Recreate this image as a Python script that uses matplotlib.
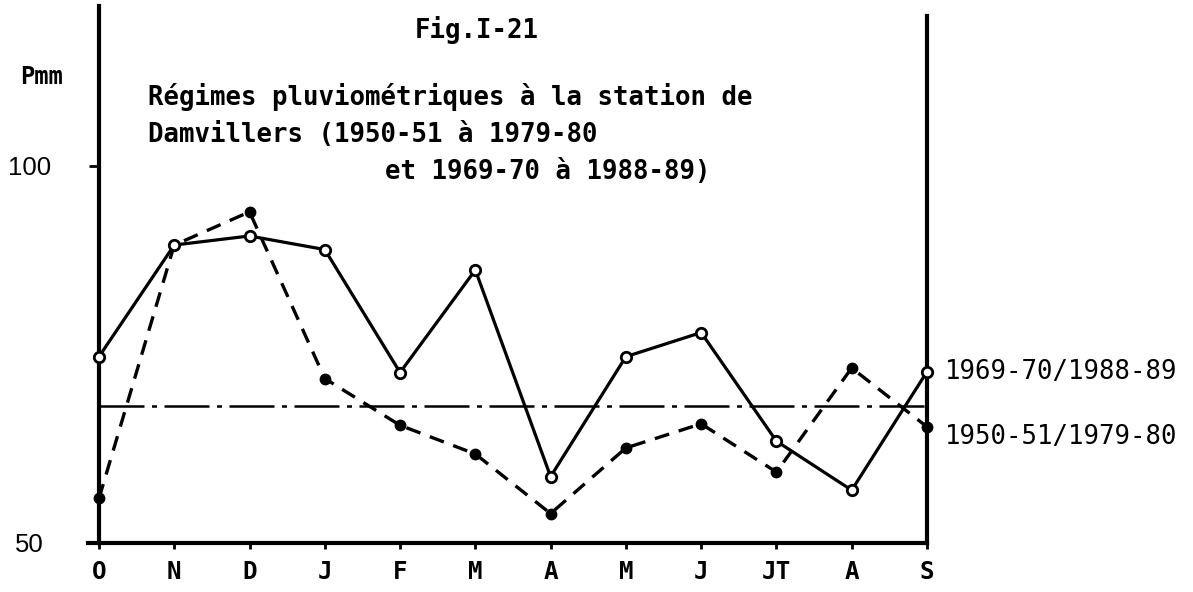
import matplotlib
matplotlib.use("Agg")
import matplotlib.pyplot as plt

# Pluviometrie mensuelle, Damvillers (mm)
mois = ["O", "N", "D", "J", "F", "M", "A", "M", "J", "JT", "A", "S"]
p_1969_89 = [74.7, 89.5, 90.7, 88.9, 72.6, 86.2, 58.8, 74.7, 77.9, 63.5, 57.0, 72.7]
p_1950_80 = [55.9, 89.5, 93.9, 71.8, 65.6, 61.8, 53.9, 62.6, 65.8, 59.4, 73.2, 65.4]
moyenne = 68.2

MONO = "DejaVu Sans Mono"

fig = plt.figure(figsize=(11.93, 5.92), dpi=100)
ax = fig.add_axes([0.0735, 0.0828, 0.7035, 0.9072])
x = list(range(len(mois)))

ax.plot(x, p_1950_80, color="black", lw=2.4, ls=(0, (4.5, 3)), marker="o",
        ms=7.5, mfc="black", mec="black", zorder=3, clip_on=False)
ax.plot(x, p_1969_89, color="black", lw=2.3, marker="o", ms=7.5, mfc="white",
        mec="black", mew=2, zorder=4, clip_on=False)
ax.plot([0, 11], [moyenne, moyenne], color="black", lw=1.8,
        ls=(0, (18, 3, 2, 3)), zorder=2)

ax.set_xlim(-0.15, 11)
ax.set_ylim(50, 121.2)
ax.spines["left"].set_position(("data", 0))
ax.spines["left"].set_linewidth(3)
ax.spines["bottom"].set_linewidth(3)
ax.spines["top"].set_visible(False)
ax.spines["right"].set_visible(False)
ax.axvline(11, ymin=0, ymax=(119.8 - 50) / 71.2, color="black", lw=3, clip_on=False)

ax.set_xticks(x)
ax.set_xticklabels(mois, fontfamily=MONO, fontweight="bold", fontsize=17.5)
ax.tick_params(axis="x", length=4, width=2, pad=8)
ax.set_yticks([50, 100])
ax.set_yticklabels(["50", "100"], fontfamily="Liberation Sans", fontsize=18.5)
ax.tick_params(axis="y", length=7, width=2, pad=43)
for lab in ax.get_yticklabels():
    lab.set_horizontalalignment("center")

ax.text(11.24, 72.7, "1969-70/1988-89", fontfamily=MONO, fontsize=18.5,
        va="center", ha="left", clip_on=False)
ax.text(11.24, 64.0, "1950-51/1979-80", fontfamily=MONO, fontsize=18.5,
        va="center", ha="left", clip_on=False)

fig.text(0.348, 0.949, "Fig.I-21", fontfamily=MONO, fontweight="bold",
         fontsize=18.5, va="center", ha="left")
fig.text(0.017, 0.870, "Pmm", fontfamily=MONO, fontweight="bold",
         fontsize=17, va="center", ha="left")
fig.text(0.124, 0.836, "Régimes pluviométriques à la station de",
         fontfamily=MONO, fontweight="bold", fontsize=18.5, va="center", ha="left")
fig.text(0.124, 0.772, "Damvillers (1950-51 à 1979-80",
         fontfamily=MONO, fontweight="bold", fontsize=18.5, va="center", ha="left")
fig.text(0.323, 0.709, "et 1969-70 à 1988-89)",
         fontfamily=MONO, fontweight="bold", fontsize=18.5, va="center", ha="left")

fig.savefig("out.png", dpi=100, facecolor="white")
